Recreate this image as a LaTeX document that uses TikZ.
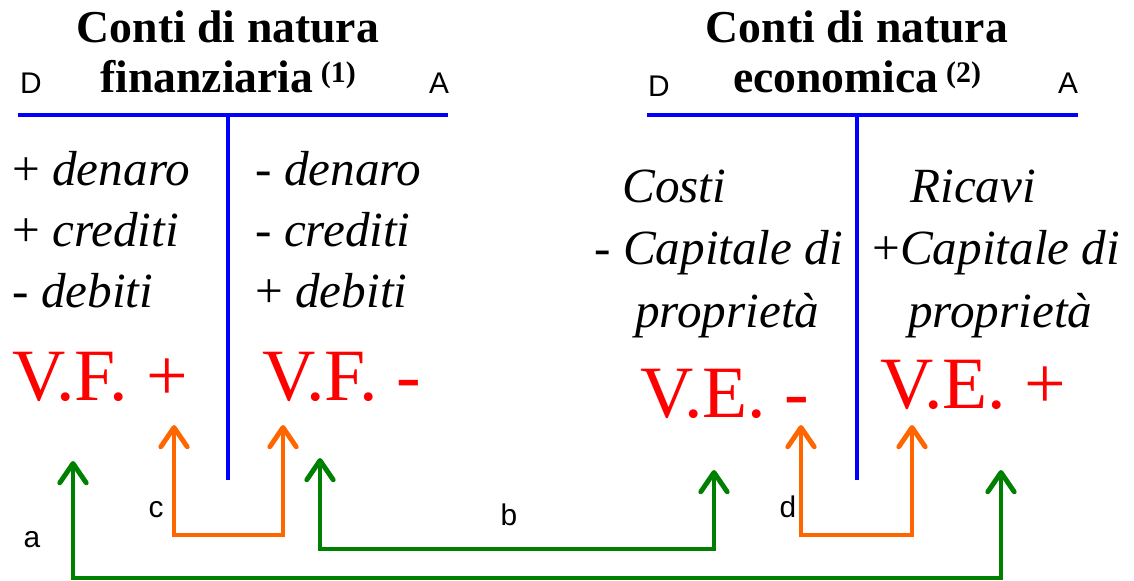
\documentclass[tikz,border=0pt]{standalone}
\usepackage{fontspec}
\setmainfont{Liberation Serif}
\setsansfont{Liberation Sans}
\usepackage{xcolor}
\usetikzlibrary{arrows.meta, positioning, calc}

\definecolor{contoBlu}{RGB}{0,0,255}
\definecolor{saldoRosso}{RGB}{255,0,0}
\definecolor{flussoVerde}{RGB}{0,128,0}
\definecolor{flussoArancio}{RGB}{255,102,0}

\newcommand{\richiamo}[1]{\,\raisebox{6pt}{\fontsize{17}{17}\selectfont(#1)}}

\begin{document}
\begin{tikzpicture}[
    x=0.02cm, y=-0.02cm,
    >={Straight Barb[length=11pt, width=15pt, round]},
    titolo/.style={font=\bfseries\fontsize{26}{29}\selectfont, inner sep=0pt, align=center},
    lato/.style={font=\sffamily\fontsize{17}{20}\selectfont, inner sep=0pt},
    voce/.style={font=\fontsize{28}{35}\selectfont, inner sep=0pt, align=left},
    saldo/.style={font=\fontsize{42}{50}\selectfont, text=saldoRosso, inner sep=0pt},
    tconto/.style={draw=contoBlu, line width=2.8pt},
    frecciaV/.style={<->, draw=flussoVerde, line width=2.8pt},
    frecciaA/.style={<->, draw=flussoArancio, line width=2.8pt}
]
    \useasboundingbox (0,0) rectangle (1134,581);

    % --- 1. Conto finanziario ---
    \node[titolo, anchor=base] (titF) at (228,93) {Conti di natura\\finanziaria\richiamo{1}};
    \node[lato, anchor=base] (dF) at (31,94) {D};
    \node[lato, anchor=base] (aF) at (439,94) {A};
    \coordinate (fSx) at (18,115);
    \coordinate (fDx) at (448,115);
    \coordinate (fTop) at (228,115);
    \coordinate (fBot) at (228,480);
    \draw[tconto] (fSx) -- (fDx);
    \draw[tconto] (fTop) -- (fBot);

    \node[voce, anchor=base west] (dareF) at (12,308) {+ \textit{denaro}\\+ \textit{crediti}\\- \textit{debiti}};
    \node[voce, anchor=base west] (avereF) at (255,308) {- \textit{denaro}\\- \textit{crediti}\\+ \textit{debiti}};
    \node[saldo, anchor=base west] (vfPiu) at (12,400) {V.F. +};
    \node[saldo, anchor=base west] (vfMeno) at (262,400) {V.F. -};

    % --- 2. Conto economico ---
    \node[titolo, anchor=base] (titE) at (857,93) {Conti di natura\\economica\richiamo{2}};
    \node[lato, anchor=base] (dE) at (659,97) {D};
    \node[lato, anchor=base] (aE) at (1068,94) {A};
    \coordinate (eSx) at (647,115);
    \coordinate (eDx) at (1078,115);
    \coordinate (eTop) at (857,115);
    \coordinate (eBot) at (857,480);
    \draw[tconto] (eSx) -- (eDx);
    \draw[tconto] (eTop) -- (eBot);

    \node[voce, anchor=base west] (costi) at (622,203) {\textit{Costi}};
    \node[voce, anchor=base west] (capMeno) at (594,265) {\textit{- Capitale di}};
    \node[voce, anchor=base west] (propMeno) at (635,327) {\textit{proprietà}};
    \node[voce, anchor=base west] (ricavi) at (910,203) {\textit{Ricavi}};
    \node[voce, anchor=base west] (capPiu) at (872,265) {+\textit{Capitale di}};
    \node[voce, anchor=base west] (propPiu) at (908,327) {\textit{proprietà}};
    \node[saldo, anchor=base west] (veMeno) at (640,418) {V.E. -};
    \node[saldo, anchor=base west] (vePiu) at (880,408) {V.E. +};

    % --- 3. Collegamenti ---
    \coordinate (cSx) at (174,425);
    \coordinate (cDx) at (283,425);
    \coordinate (cBase) at (228,535);
    \coordinate (dSx) at (801,425);
    \coordinate (dDx) at (912,425);
    \coordinate (dBase) at (857,535);
    \coordinate (bSx) at (320,458);
    \coordinate (bDx) at (714,470);
    \coordinate (bBase) at (508,549);
    \coordinate (aSx) at (73,461);
    \coordinate (aDx) at (1001,470);
    \coordinate (aBase) at (508,578);

    \draw[frecciaA] (cSx) |- (cBase) -| (cDx);
    \draw[frecciaA] (dSx) |- (dBase) -| (dDx);
    \draw[frecciaV] (bSx) |- (bBase) -| (bDx);
    \draw[frecciaV] (aSx) |- (aBase) -| (aDx);

    \node[lato, anchor=base] (etA) at (32,547) {a};
    \node[lato, anchor=base] (etB) at (509,525) {b};
    \node[lato, anchor=base] (etC) at (156,517) {c};
    \node[lato, anchor=base] (etD) at (788,517) {d};
\end{tikzpicture}
\end{document}
